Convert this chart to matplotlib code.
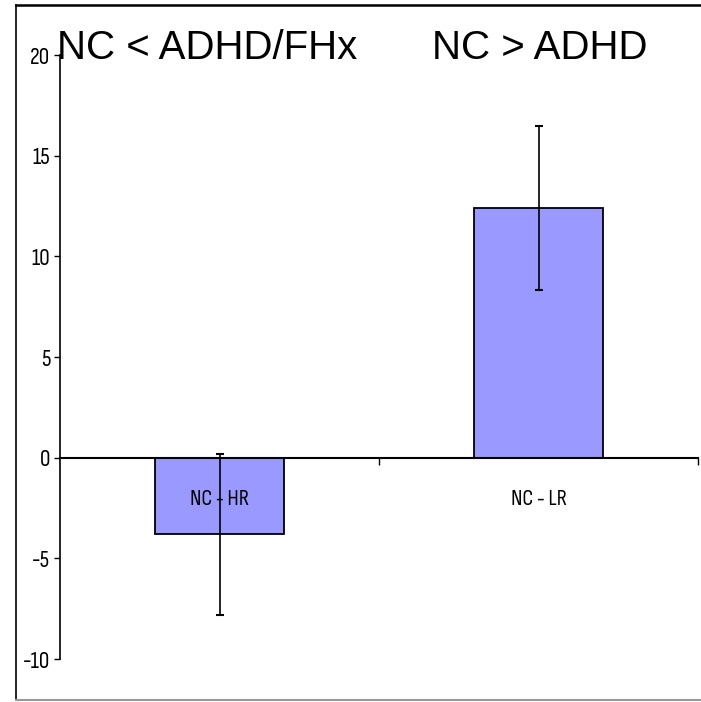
import matplotlib
matplotlib.use("Agg")
import matplotlib.pyplot as plt
from matplotlib.lines import Line2D

categories = ["NC - HR", "NC - LR"]
values = [-3.8, 12.4]
errors = [4.0, 4.05]
yticks = [-10, -5, 0, 5, 10, 15, 20]
title_left = "NC < ADHD/FHx"
title_right = "NC > ADHD"

W, H = 701, 702
fig = plt.figure(figsize=(W / 100, H / 100), dpi=100)
narrow = ["Liberation Sans Narrow", "Sofia Sans Condensed", "Liberation Sans", "DejaVu Sans"]

# outer frame
fig.add_artist(Line2D([16 / W, 16 / W], [1 - 5 / H, 1 - 700 / H], color="black", lw=1.2, transform=fig.transFigure))
fig.add_artist(Line2D([16 / W, 1.0], [1 - 5 / H, 1 - 5 / H], color="black", lw=1.8, transform=fig.transFigure))
fig.add_artist(Line2D([16 / W, 1.0], [1 - 700 / H, 1 - 700 / H], color="#999999", lw=1.5, transform=fig.transFigure))

ax = fig.add_axes([60 / W, 1 - 659 / H, (698 - 60) / W, (659 - 55) / H])
x = list(range(len(categories)))
ax.bar(x, values, width=0.405, color="#9999FF", edgecolor="black", linewidth=1.3, zorder=2)
ax.errorbar(x, values, yerr=errors, fmt="none", ecolor="black", elinewidth=1.2, capsize=3, capthick=1.5, zorder=3)

ax.set_xlim(-0.5, 1.5)
ax.set_ylim(-10, 20)
ax.set_yticks(yticks)
ax.set_yticklabels([str(t) for t in yticks], fontfamily=narrow, fontsize=17)
ax.tick_params(axis="y", direction="out", length=4, width=1, pad=3)
ax.spines["top"].set_visible(False)
ax.spines["right"].set_visible(False)
ax.spines["left"].set_linewidth(1.2)
ax.spines["bottom"].set_position(("data", 0))
ax.spines["bottom"].set_linewidth(1.5)
ax.spines["bottom"].set_zorder(4)
ax.set_xticks([0.5, 1.5])
ax.set_xticklabels([])
ax.tick_params(axis="x", direction="out", length=5, width=1)

for xi, lab in zip(x, categories):
    ax.text(xi, -2.1, lab, ha="center", va="center", fontfamily=narrow, fontsize=16, zorder=5)

fig.text(57 / W, 1 - 48 / H, title_left, fontfamily=["Liberation Sans", "DejaVu Sans"], fontsize=29, va="center", ha="left")
fig.text(432 / W, 1 - 48 / H, title_right, fontfamily=["Liberation Sans", "DejaVu Sans"], fontsize=29, va="center", ha="left")

fig.savefig("out.png", dpi=100)
